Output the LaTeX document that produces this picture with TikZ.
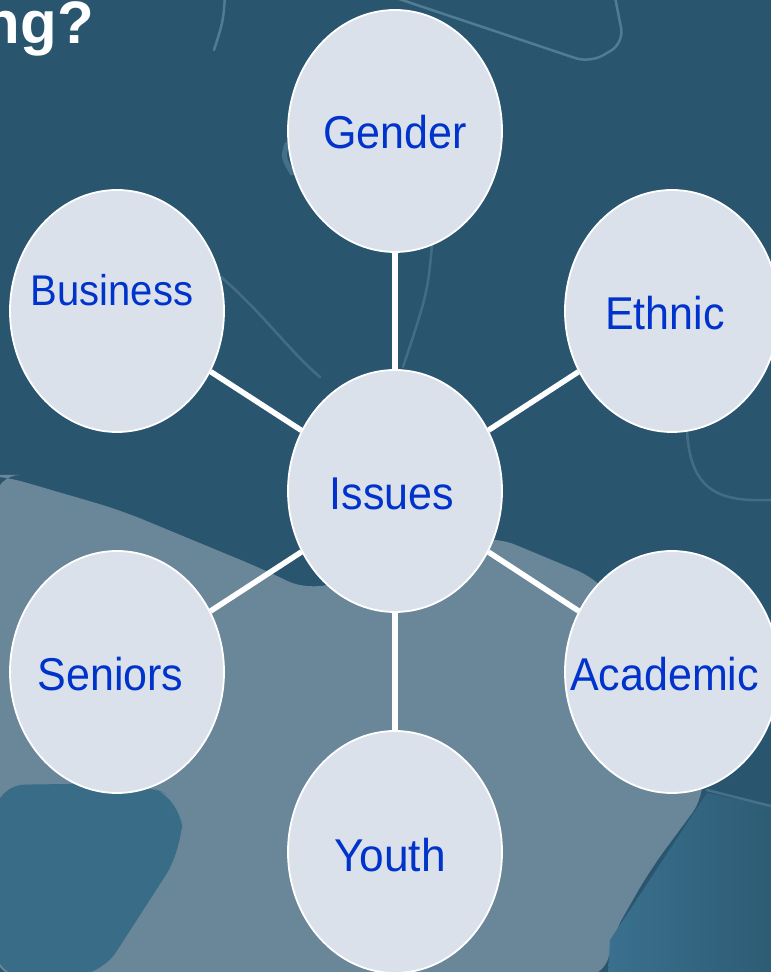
\documentclass[tikz,border=0pt]{standalone}
\usepackage{fontspec}
\setmainfont{Liberation Sans}
\usetikzlibrary{shapes.geometric}
\definecolor{bgdark}{RGB}{41,85,110}
\definecolor{bglight}{RGB}{106,134,153}
\definecolor{bgmid}{RGB}{56,108,135}
\definecolor{bgmidr}{RGB}{58,112,142}
\definecolor{bgdarkr}{RGB}{45,91,116}
\definecolor{decoline}{RGB}{100,140,165}
\definecolor{bubfill}{RGB}{218,225,235}
\definecolor{lbltxt}{RGB}{0,51,204}
\tikzset{
  bub/.style={ellipse, draw=white, line width=1.8pt, fill=bubfill,
    minimum width=214pt, minimum height=242pt, inner sep=0pt},
  lbl/.style={text=lbltxt, font=\fontsize{43}{43}\selectfont, anchor=base, inner sep=0pt},
  link/.style={draw=white, line width=5.5pt},
  deco/.style={draw=decoline, line width=2.5pt, opacity=0.7, line cap=round},
  titletxt/.style={text=white, font=\bfseries\fontsize{60}{60}\selectfont, anchor=base east, inner sep=0pt}
}
\begin{document}
\begin{tikzpicture}[x=1pt,y=1pt]
\useasboundingbox (0,0) rectangle (771,972);
\clip (0,0) rectangle (771,972);
% background
\fill[bgdark] (0,0) rectangle (771,972);
\fill[bglight, rounded corners=25pt] (0,497) -- (120,462) -- (265,402) -- (310,380)
  -- (395,412) -- (492,437) -- (600,392) -- (690,272) -- (707,179) -- (650,102)
  -- (610,32) -- (608,-5) -- (-5,-5) -- (-5,497) -- cycle;
\fill[bgmid, rounded corners=30pt] (-5,187) -- (140,189) -- (182,172) -- (182,122)
  -- (100,-5) -- (-5,-5) -- cycle;
\shade[left color=bgmidr, right color=bgdarkr] (707,179) -- (776,165) -- (776,-5)
  -- (608,-5) -- (610,32) -- cycle;
\draw[deco, opacity=0.5] (707,182) -- (771,166);
% faint puzzle outlines
\draw[deco, rounded corners=15pt] (393,975) -- (590,909) -- (624,929) -- (615,975);
\draw[deco] (225,975) .. controls (223,950) .. (214,922);
\draw[deco, opacity=0.45] (433,739) .. controls (428,680) .. (403,605);
\draw[deco, opacity=0.45] (221,695) .. controls (262,660) and (290,620) .. (320,595);
\draw[deco, opacity=0.45] (687,542) .. controls (690,480) and (720,470) .. (771,472);
\draw[deco, line width=5pt, opacity=0.5] (287,828) .. controls (283,815) .. (292,799);
% title fragment
\node[titletxt] (title) at (94,928) {ng?};
% bubbles
\node[bub] (gender) at (395,841) {};
\node[bub] (issues) at (395,481) {};
\node[bub] (business) at (117,661) {};
\node[bub] (ethnic) at (672,661) {};
\node[bub] (seniors) at (117,300) {};
\node[bub] (academic) at (672,300) {};
\node[bub] (youth) at (395,120) {};
% connectors
\draw[link] (issues) -- (gender);
\draw[link] (issues) -- (business);
\draw[link] (issues) -- (ethnic);
\draw[link] (issues) -- (seniors);
\draw[link] (issues) -- (academic);
\draw[link] (issues) -- (youth);
% labels
\node[lbl] (gendert) at ([shift={(0,-18)}]gender.center) {\scalebox{1}[1.07]{Gender}};
\node[lbl] (issuest) at ([shift={(-3,-19)}]issues.center) {\scalebox{1}[1.07]{Issues}};
\node[lbl] (businesst) at ([shift={(-5,5)}]business.center) {\scalebox{0.93}[1.0]{Business}};
\node[lbl] (ethnict) at ([shift={(-7,-19)}]ethnic.center) {\scalebox{1}[1.07]{Ethnic}};
\node[lbl] (seniorst) at ([shift={(-6.5,-19)}]seniors.center) {\scalebox{1}[1.07]{Seniors}};
\node[lbl] (academict) at ([shift={(-7.5,-19)}]academic.center) {\scalebox{1}[1.07]{Academic}};
\node[lbl] (youtht) at ([shift={(-5,-19.5)}]youth.center) {\scalebox{1.03}[1.07]{Youth}};
\end{tikzpicture}
\end{document}
